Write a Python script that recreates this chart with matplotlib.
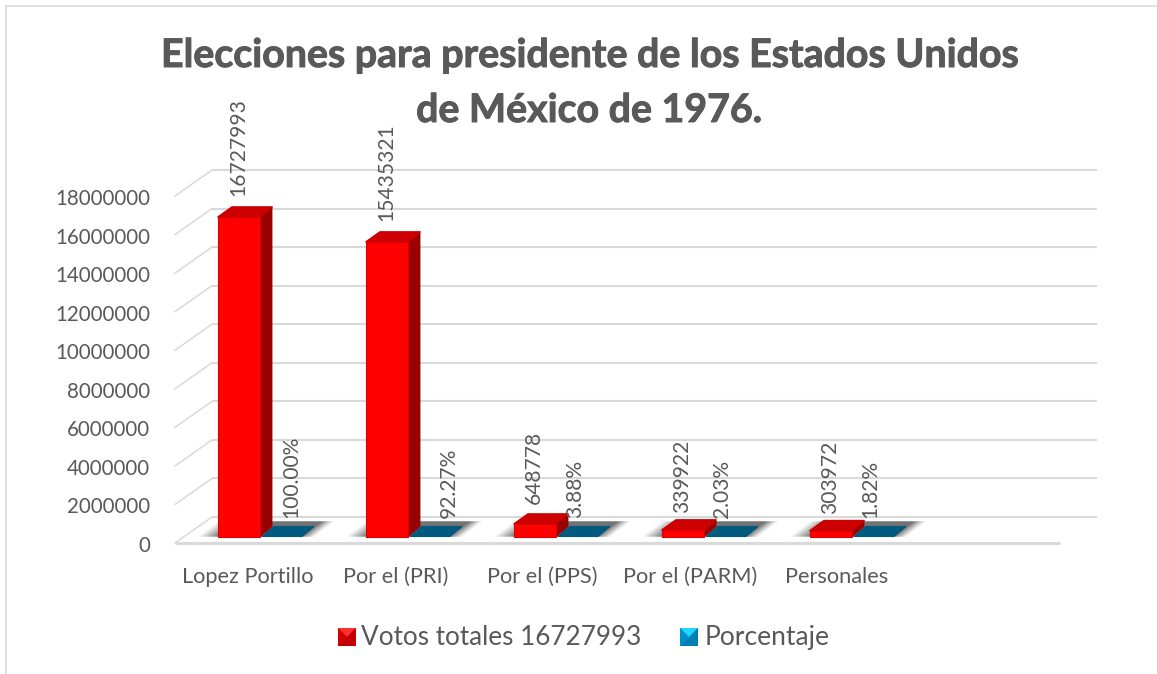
import matplotlib
matplotlib.use("Agg")
import matplotlib.pyplot as plt
import matplotlib.patheffects as pe
from matplotlib.lines import Line2D
from matplotlib.patches import Polygon
from matplotlib.transforms import ScaledTranslation

categories = ["Lopez Portillo", "Por el (PRI)", "Por el (PPS)", "Por el (PARM)", "Personales"]
votos = [16727993, 15435321, 648778, 339922, 303972]
porcentaje = [1.0, 0.9227, 0.0388, 0.0203, 0.0182]
porcentaje_labels = ["100.00%", "92.27%", "3.88%", "2.03%", "1.82%"]
y_ticks = list(range(0, 18000001, 2000000))
series_names = ["Votos totales 16727993", "Porcentaje"]
title_lines = ["Elecciones para presidente de los Estados Unidos", "de México de 1976."]

W, H = 1157, 674
TEXT = "#595959"
GRID = "#D9D9D9"
plt.rcParams["font.family"] = ["Lato", "DejaVu Sans"]

fig = plt.figure(figsize=(W / 100, H / 100), dpi=100, facecolor="white")
L, R, T, B = 175, 1060, 196, 543
ax = fig.add_axes([L / W, 1 - B / H, (R - L) / W, (B - T) / H])
PXX = 1 / 148           # one pixel in category units
PXY = 18000000 / (B - T)  # one pixel in value units
ax.set_xlim((L - 239) * PXX, (R - 239) * PXX)
ax.set_ylim(0, 18000000)
ax.patch.set_alpha(0)
for s in ax.spines.values():
    s.set_visible(False)

# walls and floor
DEPTH_X, DEPTH_Y = 37 * PXX, 26 * PXY
x0, x1 = ax.get_xlim()
for v in y_ticks:
    ax.plot([x0, x0 + DEPTH_X], [v, v + DEPTH_Y], color=GRID, lw=1.1, clip_on=False, zorder=1)
    ax.plot([x0 + DEPTH_X, x1 + DEPTH_X], [v + DEPTH_Y, v + DEPTH_Y], color=GRID, lw=1.5,
            clip_on=False, zorder=1, solid_capstyle="butt")
ax.plot([x0, x1], [0, 0], color=GRID, lw=2.2, clip_on=False, zorder=1, solid_capstyle="butt")

BASE = 6.5 * PXY
BW = 42 * PXX
SX, SY = 12 * PXX, 10 * PXY


def poly(pts, color, z, ec="none", lw=0):
    ax.add_patch(Polygon(pts, closed=True, facecolor=color, edgecolor=ec, lw=lw, joinstyle="round",
                         clip_on=False, zorder=z))


def shadow(i):
    left = i - 41 * PXX
    right = i + 62 * PXX
    fade_l, fade_r = 21 * PXX, 13 * PXX
    n = 60
    total = right + fade_r - left
    strips = []
    for k in range(n):
        a = left + total * k / n
        b = left + total * (k + 1) / n
        c = (a + b) / 2
        if c < left + fade_l:
            f = (c - left) / fade_l
        elif c > right:
            f = (right + fade_r - c) / fade_r
        else:
            f = 1
        strips.append((a, b, 1 - 0.55 * f))
    last = len(strips) - 1
    for k, (a, b, g) in enumerate(strips):
        b2 = b + (total / n if k < last else 0)
        ax.fill([a, b2, b2 + 20 * PXX, a + 20 * PXX], [BASE, BASE, BASE + 15 * PXY, BASE + 15 * PXY],
                color=(g, g, g), lw=0, clip_on=False, zorder=2)


for i, (v, p) in enumerate(zip(votos, porcentaje)):
    shadow(i)
    # red column
    a, b = i - BW / 2, i + BW / 2
    top = BASE + v - 3 * PXY if v > 1000000 else BASE + v
    poly([(b, BASE), (b + SX, BASE + SY), (b + SX, top + SY), (b, top)], "#990000", 4, "#990000", 0.6)
    poly([(a, top), (b, top), (b + SX, top + SY), (a + SX + 2 * PXX, top + SY)], "#CC0000", 4, "#CC0000", 1.2)
    poly([(a, BASE), (b, BASE), (b, top), (a, top)], "#FF0000", 5, "#DD0000", 0.8)
    # blue column (its height is negligible on this scale)
    c, d = i + BW / 2 + 2 * PXX, i + 3 * BW / 2
    poly([(c, BASE), (d, BASE), (d + SX, BASE + SY), (c + SX, BASE + SY)], "#005A80", 3, "#005A80", 0.8)

# data labels
red_shift = [18, 18, 20, 17, 17]
for i, v in enumerate(votos):
    top = BASE + v
    ax.text(i - 1 * PXX, top + red_shift[i] * PXY, str(v), rotation=90, ha="center", va="bottom",
            color=TEXT, fontsize=15.1, clip_on=False, zorder=6)
label_shift = [10, 20, -2, -3, -3]
for i, s in enumerate(porcentaje_labels):
    ax.text(i + (42 + label_shift[i]) * PXX, BASE + 19 * PXY, s, rotation=90, ha="center", va="bottom",
            color=TEXT, fontsize=15.1, clip_on=False, zorder=6)

# axes text
ax.set_yticks(y_ticks)
ax.set_yticklabels([str(v) for v in y_ticks], fontsize=14.8, color=TEXT)
ax.set_xticks([i + (9 - 0.75 * i) * PXX for i in range(len(categories))])
ax.set_xticklabels(categories, fontsize=15.7, color=TEXT)
ax.tick_params(axis="both", length=0)
ax.tick_params(axis="y", pad=18)
ax.tick_params(axis="x", pad=17.5)
down = ScaledTranslation(0, -1 / 100, fig.dpi_scale_trans)
for lab in ax.get_yticklabels():
    lab.set_transform(lab.get_transform() + down)

# title
for line, y in zip(title_lines, [67, 122]):
    t = fig.text(589 / W, 1 - y / H, line, ha="center", va="baseline", color=TEXT,
                 fontsize=28.3, fontweight="bold")
    t.set_path_effects([pe.withStroke(linewidth=0.7, foreground=TEXT)])


# legend
def swatch(px, light, main, dark, darker):
    s = 18
    y0, y1 = 628, 646
    def P(pts, col):
        fig.add_artist(Polygon([(x / W, 1 - y / H) for x, y in pts], closed=True, facecolor=col,
                               edgecolor="none", transform=fig.transFigure))
    cx, cy = px + s / 2, (y0 + y1) / 2
    P([(px, y0), (px + s, y0), (px + s, y1), (px, y1)], main)
    P([(px, y0), (px + s, y0), (cx, cy)], light)
    P([(px + s, y0), (px + s, y1), (cx, cy)], dark)
    P([(px, y1), (px + s, y1), (cx, cy)], dark)
    P([(px, y0), (px, y1), (cx, cy)], darker)


swatch(338, "#FF3030", "#FF0000", "#C00000", "#D00000")
swatch(680, "#20D8FF", "#00B0F0", "#0080B0", "#0090C8")
fig.text(361 / W, 1 - 645 / H, series_names[0], color=TEXT, fontsize=18.8, va="baseline")
fig.text(705 / W, 1 - 645 / H, series_names[1], color=TEXT, fontsize=19.1, va="baseline")

# chart frame, cut by the screenshot on the right and bottom
fig.add_artist(Line2D([6 / W, 6 / W], [0, 1 - 5.5 / H], color=GRID, lw=1.1, transform=fig.transFigure))
fig.add_artist(Line2D([6 / W, 1], [1 - 5.5 / H, 1 - 5.5 / H], color=GRID, lw=1.1, transform=fig.transFigure))

fig.savefig("out.png", dpi=100, facecolor="white")
